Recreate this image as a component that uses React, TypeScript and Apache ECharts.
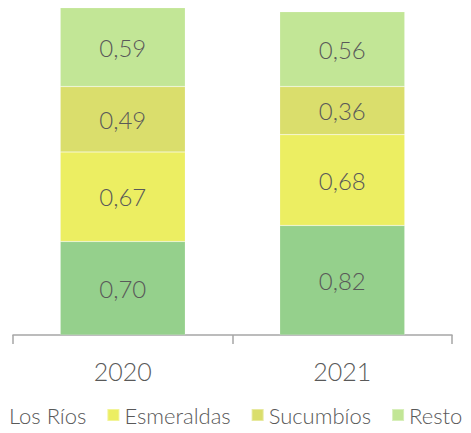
import React, { useEffect, useRef } from "react";
import * as echarts from "echarts";

const years = ["2020", "2021"];
const losRios = [0.7, 0.82];
const esmeraldas = [0.67, 0.68];
const sucumbios = [0.49, 0.36];
const resto = [0.59, 0.56];

const seriesDefs = [
  { name: "Los Ríos", data: losRios, color: "#95D08C" },
  { name: "Esmeraldas", data: esmeraldas, color: "#ECEE62" },
  { name: "Sucumbíos", data: sucumbios, color: "#DADE6C" },
  { name: "Resto", data: resto, color: "#C2E696" },
];

const FONT = "Lato";

export default function App() {
  const ref = useRef<HTMLDivElement>(null);
  useEffect(() => {
    if (!ref.current) return;
    const chart = echarts.init(ref.current, null, { renderer: "svg" });
    chart.setOption({
      animation: false,
      textStyle: { fontFamily: FONT },
      grid: { left: 13, right: 19, top: 1, bottom: 98, containLabel: false },
      legend: {
        left: -9,
        top: 402,
        itemWidth: 12,
        itemHeight: 12,
        itemGap: 20,
        padding: 0,
        icon: "rect",
        textStyle: { fontFamily: FONT, fontSize: 22, fontWeight: 300, color: "#595959", lineHeight: 26 },
        data: seriesDefs.map((s) => s.name),
      },
      xAxis: {
        type: "category",
        data: years,
        axisLine: { lineStyle: { color: "#A6A6A6", width: 1.5 } },
        axisTick: { show: true, length: 9, lineStyle: { color: "#A6A6A6", width: 1.5 } },
        axisLabel: { fontFamily: FONT, fontSize: 25, fontWeight: 300, color: "#595959", margin: 23 },
      },
      yAxis: {
        type: "value",
        min: 0,
        max: 2.5,
        show: false,
        splitLine: { show: false },
      },
      series: seriesDefs.map((s) => ({
        name: s.name,
        type: "bar",
        stack: "total",
        barWidth: 125,
        data: s.data,
        itemStyle: { color: s.color, borderColor: "rgba(255,255,255,0.35)", borderWidth: 0.5 },
        label: {
          show: true,
          position: "inside",
          fontFamily: FONT,
          fontSize: 24,
          fontWeight: 300,
          color: "#595959",
          formatter: (p: any) => p.value.toFixed(2).replace(".", ","),
        },
      })),
    });
    return () => chart.dispose();
  }, []);
  return <div ref={ref} style={{ width: 471, height: 433, margin: -8 }} />;
}
